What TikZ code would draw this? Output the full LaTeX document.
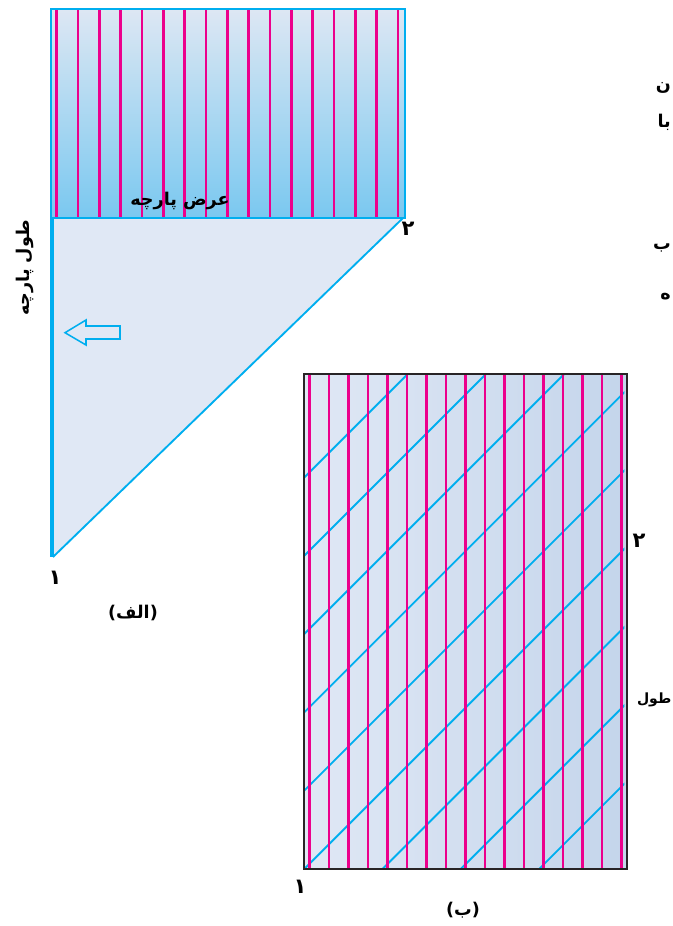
\documentclass[tikz,border=0pt]{standalone}
\usepackage{fontspec}
\newfontfamily\farsi[Script=Arabic]{DejaVu Sans}
\newfontfamily\paren{DejaVu Sans}
\TeXXeTstate=1
\usetikzlibrary{positioning}
\definecolor{pcyan}{RGB}{0,174,239}
\definecolor{pmag}{RGB}{236,0,140}
\definecolor{skytop}{RGB}{221,231,243}
\definecolor{skybot}{RGB}{122,200,240}
\definecolor{cloth}{RGB}{224,232,245}
\definecolor{clothdark}{RGB}{196,213,235}
\definecolor{frame}{RGB}{40,36,38}
\tikzset{
  lbl/.style={font=\farsi\bfseries\fontsize{15}{17}\selectfont,inner sep=0pt},
  num/.style={font=\farsi\bfseries\fontsize{18}{20}\selectfont,inner sep=0pt},
  thread/.style={pmag,line width=2.3pt},
  bias/.style={pcyan,line width=1.6pt},
  edge/.style={pcyan,line width=1.6pt},
}

\begin{document}
\begin{tikzpicture}[x=0.03cm,y=-0.03cm]
\useasboundingbox (0,0) rectangle (672,926);
% (الف)
\shade[top color=skytop,bottom color=skybot] (51,9) rectangle (405,218);
\foreach \i in {0,...,16} {
    \draw[thread] ({56.7+21.33*\i},10) -- ({56.7+21.33*\i},217);
}
\draw[edge] (51,9) rectangle (405,218);
\fill[cloth] (53,218) -- (403,218) -- (53,557) -- cycle;
\draw[edge,line join=round] (53,218) -- (403,218) -- (53,557);
\draw[pcyan,line width=3.5pt] (52,218) -- (52,557);
\draw[pcyan,line width=1.3pt] (65,332.7) -- (86,320) -- (86,326) -- (120,326) -- (120,339) -- (86,339) -- (86,345) -- cycle;
\node[lbl] (arz) at (180,201) {\beginR عرض پارچه\endR};
\node[lbl,rotate=90] (tool) at (25,268) {\beginR طول پارچه\endR};
\node[num] (n2a) at (408,229) {۲};
\node[num] (n1a) at (55,578) {۱};
\node[lbl] (alef) at (133,613) {{\paren (}\beginR الف\endR{\paren )}};
% (ب)
\shade[left color=cloth,right color=clothdark] (304,374) rectangle (627,869);
\begin{scope}
\clip (305,375) rectangle (624.3,868);
\foreach \k in {0,...,8} {
    \draw[bias] ({781.7+78.3*\k-900},900) -- ({781.7+78.3*\k-340},340);
}
\end{scope}
\foreach \i in {0,...,16} {
    \draw[thread,line width=2.1pt] ({309.3+19.525*\i},375) -- ({309.3+19.525*\i},868);
}
\draw[frame,line width=2pt] (304,374) rectangle (627,869);
\node[num] (n1b) at (300,887) {۱};
\node[lbl] (be) at (463,910) {{\paren (}\beginR ب\endR{\paren )}};
\node[num] (n2b) at (639,541) {۲};
\node[lbl,font=\farsi\bfseries\fontsize{12}{14}\selectfont,anchor=east] (toolb) at (671.5,700) {\beginR طول\endR};
% cut-off text at the right edge
\node[lbl,anchor=east] (f1) at (671,88) {ن};
\node[lbl,anchor=east] (f2) at (671,122) {\beginR با\endR};
\node[lbl,anchor=east] (f3) at (671,248) {ب};
\node[lbl,anchor=east] (f4) at (671,297) {ه};
\end{tikzpicture}
\end{document}
